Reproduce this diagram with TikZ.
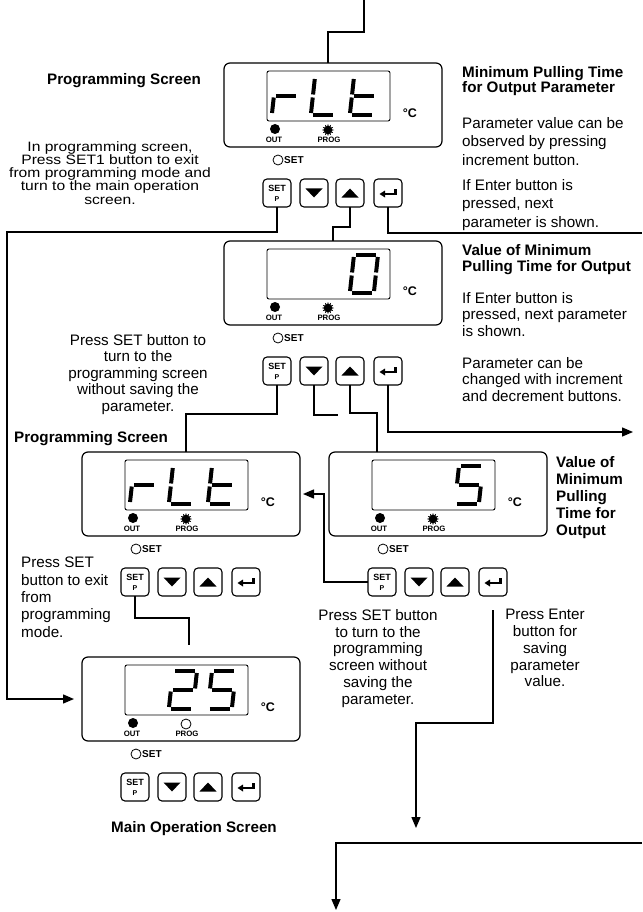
\documentclass[tikz,border=0pt]{standalone}
\usepackage{fontspec}
\setmainfont{Liberation Sans}
\newfontfamily\pfwidefam[FakeStretch=1.15]{Liberation Sans}
\usetikzlibrary{arrows.meta,shapes.geometric}
\newcommand{\pftxt}{\fontsize{15.2}{16.5}\selectfont}
\newcommand{\pfhead}{\bfseries\fontsize{15.2}{16.5}\selectfont}
\newcommand{\pfnarrow}{\pfwidefam\fontsize{13.6}{13.3}\selectfont}
\newcommand{\pfled}{\bfseries\fontsize{7.8}{8}\selectfont}
\tikzset{
  screenbox/.style={draw,line width=1.2pt,rounded corners=6pt,minimum width=218pt,minimum height=84pt,inner sep=0pt,outer sep=0pt},
  lcd/.style={draw,line width=0.9pt,rounded corners=2pt,minimum width=123pt,minimum height=50pt,inner sep=0pt},
  keybtn/.style={draw,line width=1.1pt,rounded corners=4pt,minimum size=28pt,inner sep=0pt,outer sep=0pt},
  ledlab/.style={font=\pfled,inner sep=0pt},
  ledon/.style={circle,fill,minimum size=10pt,inner sep=0pt},
  ledoff/.style={circle,draw,line width=0.8pt,minimum size=10pt,inner sep=0pt},
  ledstar/.style={star,star points=12,star point ratio=1.7,fill,minimum size=12pt,inner sep=0pt},
  segline/.style={line width=4pt},
  flow/.style={line width=1.4pt},
  arrowflow/.style={flow,-{Triangle[length=11pt,width=9pt]}},
  notetxt/.style={font=\pftxt,inner sep=0pt,align=center},
  headtxt/.style={font=\pfhead,inner sep=0pt,align=left}
}
% seven segments of one digit
\newcommand{\pfsega}{\draw[segline] (2,0) -- (22,0);}
\newcommand{\pfsegb}{\draw[segline] (24,2) -- (24,17.5);}
\newcommand{\pfsegc}{\draw[segline] (24,20.5) -- (24,36);}
\newcommand{\pfsegd}{\draw[segline] (2,38) -- (22,38);}
\newcommand{\pfsege}{\draw[segline] (0,20.5) -- (0,36);}
\newcommand{\pfsegf}{\draw[segline] (0,2) -- (0,17.5);}
\newcommand{\pfsegg}{\draw[segline] (2,19) -- (22,19);}
\newcommand{\pfdigit}[2]{%
  \begin{scope}[shift={(#1,14)},xslant=0.11]
    \foreach \s in {#2} {\csname pfseg\s\endcsname}
  \end{scope}}
% one controller front: name, x, y, prog led, digits
\newcommand{\pfdevice}[5]{%
  \begin{scope}[shift={(#2,#3)}]
    \node[screenbox] (#1) at (109,42) {};
    \node[lcd] (#1-lcd) at (104.5,33) {};
    #5
    \node[font=\bfseries\fontsize{12.5}{13}\selectfont,inner sep=0pt] (#1-unit) at (186,50) {°C};
    \node[ledon] (#1-out) at (51,66) {};
    \node[ledlab] (#1-outlab) at (50,77) {OUT};
    \node[#4] (#1-prog) at (104,67) {};
    \node[ledlab] (#1-proglab) at (105,77) {PROG};
    \node[ledoff] (#1-setled) at (54,97) {};
    \node[ledlab,font=\bfseries\fontsize{10}{10}\selectfont,anchor=west] (#1-setlab) at (60,97) {SET};
    \node[keybtn] (#1-set) at (53,130) {};
    \node[font=\bfseries\fontsize{9}{9}\selectfont,inner sep=0pt] (#1-settxt) at (53,125) {SET};
    \node[font=\bfseries\fontsize{7}{7}\selectfont,inner sep=0pt] (#1-ptxt) at (53,136) {P};
    \node[keybtn] (#1-dn) at (90,130) {};
    \fill (81.5,125.5) -- (98.5,125.5) -- (90,134.5) -- cycle;
    \node[keybtn] (#1-up) at (126,130) {};
    \fill (117.5,134.5) -- (134.5,134.5) -- (126,125.5) -- cycle;
    \node[keybtn] (#1-ent) at (164,130) {};
    \fill (155.5,131) -- (161,127.5) -- (161,134.5) -- cycle;
    \draw[line width=2.3pt] (160,131) -- (171.5,131) -- (171.5,126);
  \end{scope}}

\begin{document}
\begin{tikzpicture}[x=1pt,y=-1pt]
\useasboundingbox (0,0) rectangle (642,912);
% screens
\pfdevice{d1}{224}{63}{ledstar}{\pfdigit{52}{e,g}\pfdigit{91}{d,e,f}\pfdigit{130}{d,e,f,g}}
\pfdevice{d2}{224}{241}{ledstar}{\pfdigit{130}{a,b,c,d,e,f}}
\pfdevice{d3}{82}{452}{ledstar}{\pfdigit{52}{e,g}\pfdigit{91}{d,e,f}\pfdigit{130}{d,e,f,g}}
\pfdevice{d4}{329}{452}{ledstar}{\pfdigit{130}{a,c,d,f,g}}
\pfdevice{d5}{82}{657}{ledoff}{\pfdigit{91}{a,b,d,e,g}\pfdigit{130}{a,c,d,f,g}}

% texts
\node[headtxt,anchor=base] (t-prog1) at (124,85) {Programming Screen};
\node[notetxt,font=\pfnarrow,anchor=north] (t-exit1) at (110,141) {In programming screen,\\Press SET1 button to exit\\from programming mode and\\turn to the main operation\\screen.};
\node[headtxt,anchor=north west,font=\bfseries\fontsize{15.2}{15.5}\selectfont] (t-minhead) at (462,66) {Minimum Pulling Time\\for Output Parameter};
\node[notetxt,align=left,anchor=north west,font=\fontsize{15.2}{18.5}\selectfont] (t-minview) at (462,117) {Parameter value can be\\observed by pressing\\increment button.};
\node[notetxt,align=left,anchor=north west,font=\fontsize{15.2}{18.5}\selectfont] (t-minnext) at (462,179) {If Enter button is\\pressed, next\\parameter is shown.};
\node[notetxt,anchor=north] (t-nosave1) at (138,334) {Press SET button to\\turn to the\\programming screen\\without saving the\\parameter.};
\node[headtxt,anchor=north west] (t-valhead) at (462,244) {Value of Minimum\\Pulling Time for Output};
\node[notetxt,align=left,anchor=north west] (t-valnext) at (462,292) {If Enter button is\\pressed, next parameter\\is shown.};
\node[notetxt,align=left,anchor=north west] (t-valchg) at (462,357) {Parameter can be\\changed with increment\\and decrement buttons.};
\node[headtxt,anchor=base] (t-prog2) at (91,442) {Programming Screen};
\node[headtxt,anchor=north west,font=\bfseries\fontsize{15.2}{17}\selectfont] (t-valshort) at (556,456) {Value of\\Minimum\\Pulling\\Time for\\Output};
\node[notetxt,align=left,anchor=north west,font=\fontsize{15.2}{17.3}\selectfont] (t-exit2) at (21,557) {Press SET\\button to exit\\from\\programming\\mode.};
\node[notetxt,anchor=north,font=\fontsize{15.2}{16.8}\selectfont] (t-nosave2) at (378,609) {Press SET button\\to turn to the\\programming\\screen without\\saving the\\parameter.};
\node[notetxt,anchor=north,font=\fontsize{15.2}{16.8}\selectfont] (t-save) at (545,609) {Press Enter\\button for\\saving\\parameter\\value.};
\node[headtxt,anchor=base] (t-main) at (194,832) {Main Operation Screen};

% connectors
\coordinate (fromprev) at (364,0);
\coordinate (nextpar) at (642,233);
\coordinate (decend) at (338,415);
\coordinate (nextval) at (633,432);
\coordinate (savedown) at (416,828);
\coordinate (fromright) at (642,843);
\coordinate (tonext) at (336,910);
\draw[flow] (fromprev) -- ++(0,32) -| ([xshift=-5pt]d1.north);
\draw[arrowflow,shorten >=8pt] (d1-set.south) |- (7,232) |- (d5.west);
\draw[flow] (d1-up.south) -- ++(0,20) -| (d2.north);
\draw[flow] (d1-ent.south) |- (nextpar);
\draw[flow] (d2-set.south) -- ++(0,29) -| ([xshift=-5pt]d3.north);
\draw[flow] (d2-dn.south) |- (decend);
\draw[flow] (d2-up.south) -- ++(0,28) -| ([xshift=48pt]d4.north west);
\draw[arrowflow] (d2-ent.south) |- (nextval);
\draw[arrowflow,shorten >=3pt] (d4-set.west) -- ++(-44,0) |- (d3.east);
\draw[flow,shorten >=12pt] (d3-set.south) -- ++(0,22) -| ([xshift=-2pt]d5.north);
\draw[arrowflow,shorten <=14pt] (d4-ent.south) -- ++(0,127) -| (savedown);
\draw[arrowflow] (fromright) -| (tonext);
\end{tikzpicture}
\end{document}
